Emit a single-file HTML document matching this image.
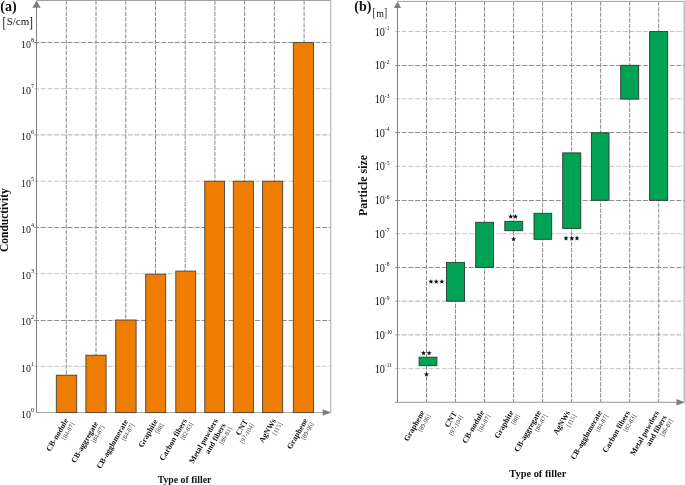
<!DOCTYPE html>
<html><head><meta charset="utf-8">
<style>
html,body{margin:0;padding:0;background:#fff;}
body{width:685px;height:485px;position:relative;overflow:hidden;filter:blur(0.35px);font-family:"Liberation Serif",serif;color:#111;}
svg{position:absolute;left:0;top:0;}
svg text{font-family:"Liberation Serif",serif;fill:#111;}
.lb{position:absolute;transform-origin:100% 0;text-align:right;white-space:nowrap;}
</style></head><body>
<svg width="685" height="485" viewBox="0 0 685 485">
<line x1="34" y1="366.24" x2="330.80" y2="366.24" stroke="#c8c8c8" stroke-width="1" stroke-dasharray="5 1.7"/>
<line x1="34" y1="320.50" x2="330.80" y2="320.50" stroke="#909090" stroke-width="1" stroke-dasharray="5 1.7"/>
<line x1="34" y1="273.72" x2="330.80" y2="273.72" stroke="#c8c8c8" stroke-width="1" stroke-dasharray="5 1.7"/>
<line x1="34" y1="227.50" x2="330.80" y2="227.50" stroke="#909090" stroke-width="1" stroke-dasharray="5 1.7"/>
<line x1="34" y1="181.20" x2="330.80" y2="181.20" stroke="#c8c8c8" stroke-width="1" stroke-dasharray="5 1.7"/>
<line x1="34" y1="134.90" x2="330.80" y2="134.90" stroke="#acacac" stroke-width="1" stroke-dasharray="5 1.7"/>
<line x1="34" y1="88.68" x2="330.80" y2="88.68" stroke="#c8c8c8" stroke-width="1" stroke-dasharray="5 1.7"/>
<line x1="34" y1="42.50" x2="330.80" y2="42.50" stroke="#909090" stroke-width="1" stroke-dasharray="5 1.7"/>
<line x1="66.30" y1="0.50" x2="66.30" y2="412.50" stroke="#8a8a8a" stroke-width="1" stroke-dasharray="4.3 1.3"/>
<line x1="96.03" y1="0.50" x2="96.03" y2="412.50" stroke="#8a8a8a" stroke-width="1" stroke-dasharray="4.3 1.3"/>
<line x1="125.75" y1="0.50" x2="125.75" y2="412.50" stroke="#8a8a8a" stroke-width="1" stroke-dasharray="4.3 1.3"/>
<line x1="155.48" y1="0.50" x2="155.48" y2="412.50" stroke="#8a8a8a" stroke-width="1" stroke-dasharray="4.3 1.3"/>
<line x1="185.20" y1="0.50" x2="185.20" y2="412.50" stroke="#8a8a8a" stroke-width="1" stroke-dasharray="4.3 1.3"/>
<line x1="214.93" y1="0.50" x2="214.93" y2="412.50" stroke="#8a8a8a" stroke-width="1" stroke-dasharray="4.3 1.3"/>
<line x1="244.65" y1="0.50" x2="244.65" y2="412.50" stroke="#8a8a8a" stroke-width="1" stroke-dasharray="4.3 1.3"/>
<line x1="274.38" y1="0.50" x2="274.38" y2="412.50" stroke="#8a8a8a" stroke-width="1" stroke-dasharray="4.3 1.3"/>
<line x1="304.10" y1="0.50" x2="304.10" y2="412.50" stroke="#8a8a8a" stroke-width="1" stroke-dasharray="4.3 1.3"/>
<line x1="36.5" y1="0.5" x2="330.8" y2="0.5" stroke="#a0a0a0" stroke-width="1"/>
<line x1="330.8" y1="0.5" x2="330.8" y2="412.5" stroke="#aaaaaa" stroke-width="1"/>
<line x1="36.5" y1="412.5" x2="324" y2="412.5" stroke="#a8a8a8" stroke-width="1"/>
<rect x="56.30" y="375.20" width="20.40" height="37.40" fill="#EE7D00" stroke="#4a4038" stroke-width="0.9"/>
<rect x="85.90" y="355.20" width="20.20" height="57.40" fill="#EE7D00" stroke="#4a4038" stroke-width="0.9"/>
<rect x="115.70" y="320.00" width="20.40" height="92.60" fill="#EE7D00" stroke="#4a4038" stroke-width="0.9"/>
<rect x="145.70" y="274.20" width="20.00" height="138.40" fill="#EE7D00" stroke="#4a4038" stroke-width="0.9"/>
<rect x="175.80" y="271.10" width="19.90" height="141.50" fill="#EE7D00" stroke="#4a4038" stroke-width="0.9"/>
<rect x="204.80" y="181.20" width="19.70" height="231.40" fill="#EE7D00" stroke="#4a4038" stroke-width="0.9"/>
<rect x="233.30" y="181.20" width="20.10" height="231.40" fill="#EE7D00" stroke="#4a4038" stroke-width="0.9"/>
<rect x="262.60" y="181.20" width="20.10" height="231.40" fill="#EE7D00" stroke="#4a4038" stroke-width="0.9"/>
<rect x="293.30" y="42.40" width="20.20" height="370.20" fill="#EE7D00" stroke="#4a4038" stroke-width="0.9"/>
<line x1="36.5" y1="6" x2="36.5" y2="412.5" stroke="#7f7f7f" stroke-width="1"/>
<polygon points="36.5,0.4 32.3,7.8 40.7,7.8" fill="#7f7f7f"/>
<polygon points="331.3,412.5 322.7,409.2 322.7,415.8" fill="#7f7f7f"/>
<text transform="translate(30.9,418.00) scale(1,1.1)" text-anchor="end" font-size="10">10</text>
<text transform="translate(31.0,411.80) scale(1,1.1)" font-size="6">0</text>
<text transform="translate(30.9,371.74) scale(1,1.1)" text-anchor="end" font-size="10">10</text>
<text transform="translate(31.0,365.54) scale(1,1.1)" font-size="6">1</text>
<text transform="translate(30.9,325.48) scale(1,1.1)" text-anchor="end" font-size="10">10</text>
<text transform="translate(31.0,319.28) scale(1,1.1)" font-size="6">2</text>
<text transform="translate(30.9,279.22) scale(1,1.1)" text-anchor="end" font-size="10">10</text>
<text transform="translate(31.0,273.02) scale(1,1.1)" font-size="6">3</text>
<text transform="translate(30.9,232.96) scale(1,1.1)" text-anchor="end" font-size="10">10</text>
<text transform="translate(31.0,226.76) scale(1,1.1)" font-size="6">4</text>
<text transform="translate(30.9,186.70) scale(1,1.1)" text-anchor="end" font-size="10">10</text>
<text transform="translate(31.0,180.50) scale(1,1.1)" font-size="6">5</text>
<text transform="translate(30.9,140.44) scale(1,1.1)" text-anchor="end" font-size="10">10</text>
<text transform="translate(31.0,134.24) scale(1,1.1)" font-size="6">6</text>
<text transform="translate(30.9,94.18) scale(1,1.1)" text-anchor="end" font-size="10">10</text>
<text transform="translate(31.0,87.98) scale(1,1.1)" font-size="6">7</text>
<text transform="translate(30.9,47.92) scale(1,1.1)" text-anchor="end" font-size="10">10</text>
<text transform="translate(31.0,41.72) scale(1,1.1)" font-size="6">8</text>
<text x="0.3" y="11" font-size="14" font-weight="bold">(a)</text>
<text transform="translate(2.4,26.5) scale(1,1.36)" font-size="11">[</text>
<text x="6.65" y="25.4" font-size="11">S/cm</text>
<text transform="translate(29.3,26.5) scale(1,1.36)" font-size="11">]</text>
<text transform="translate(7.8,220.1) rotate(-90)" text-anchor="middle" font-size="11.5" font-weight="bold">Conductivity</text>
<text x="184.5" y="482.8" text-anchor="middle" font-size="9.8" font-weight="bold">Type of filler</text>
<line x1="395" y1="31.50" x2="684.20" y2="31.50" stroke="#c8c8c8" stroke-width="1" stroke-dasharray="5 1.7"/>
<line x1="395" y1="65.50" x2="684.20" y2="65.50" stroke="#909090" stroke-width="1" stroke-dasharray="5 1.7"/>
<line x1="395" y1="98.84" x2="684.20" y2="98.84" stroke="#c8c8c8" stroke-width="1" stroke-dasharray="5 1.7"/>
<line x1="395" y1="132.50" x2="684.20" y2="132.50" stroke="#909090" stroke-width="1" stroke-dasharray="5 1.7"/>
<line x1="395" y1="166.28" x2="684.20" y2="166.28" stroke="#c8c8c8" stroke-width="1" stroke-dasharray="5 1.7"/>
<line x1="395" y1="200.50" x2="684.20" y2="200.50" stroke="#909090" stroke-width="1" stroke-dasharray="5 1.7"/>
<line x1="395" y1="233.72" x2="684.20" y2="233.72" stroke="#c8c8c8" stroke-width="1" stroke-dasharray="5 1.7"/>
<line x1="395" y1="267.50" x2="684.20" y2="267.50" stroke="#909090" stroke-width="1" stroke-dasharray="5 1.7"/>
<line x1="395" y1="301.16" x2="684.20" y2="301.16" stroke="#acacac" stroke-width="1" stroke-dasharray="5 1.7"/>
<line x1="395" y1="334.88" x2="684.20" y2="334.88" stroke="#acacac" stroke-width="1" stroke-dasharray="5 1.7"/>
<line x1="395" y1="368.60" x2="684.20" y2="368.60" stroke="#c8c8c8" stroke-width="1" stroke-dasharray="5 1.7"/>
<line x1="426.50" y1="1.40" x2="426.50" y2="402.30" stroke="#8a8a8a" stroke-width="1" stroke-dasharray="4.3 1.3"/>
<line x1="455.52" y1="1.40" x2="455.52" y2="402.30" stroke="#8a8a8a" stroke-width="1" stroke-dasharray="4.3 1.3"/>
<line x1="484.55" y1="1.40" x2="484.55" y2="402.30" stroke="#8a8a8a" stroke-width="1" stroke-dasharray="4.3 1.3"/>
<line x1="513.58" y1="1.40" x2="513.58" y2="402.30" stroke="#8a8a8a" stroke-width="1" stroke-dasharray="4.3 1.3"/>
<line x1="542.60" y1="1.40" x2="542.60" y2="402.30" stroke="#8a8a8a" stroke-width="1" stroke-dasharray="4.3 1.3"/>
<line x1="571.62" y1="1.40" x2="571.62" y2="402.30" stroke="#8a8a8a" stroke-width="1" stroke-dasharray="4.3 1.3"/>
<line x1="600.65" y1="1.40" x2="600.65" y2="402.30" stroke="#8a8a8a" stroke-width="1" stroke-dasharray="4.3 1.3"/>
<line x1="629.67" y1="1.40" x2="629.67" y2="402.30" stroke="#8a8a8a" stroke-width="1" stroke-dasharray="4.3 1.3"/>
<line x1="658.70" y1="1.40" x2="658.70" y2="402.30" stroke="#8a8a8a" stroke-width="1" stroke-dasharray="4.3 1.3"/>
<line x1="397.5" y1="1.4" x2="684.2" y2="1.4" stroke="#a0a0a0" stroke-width="1"/>
<line x1="684.2" y1="1.4" x2="684.2" y2="402.3" stroke="#9c9c9c" stroke-width="1"/>
<rect x="419.10" y="357.20" width="17.80" height="8.50" fill="#00A354" stroke="#2a3a30" stroke-width="0.9"/>
<rect x="446.50" y="262.40" width="18.00" height="38.80" fill="#00A354" stroke="#2a3a30" stroke-width="0.9"/>
<rect x="475.70" y="222.30" width="17.80" height="45.10" fill="#00A354" stroke="#2a3a30" stroke-width="0.9"/>
<rect x="504.80" y="221.30" width="17.90" height="9.40" fill="#00A354" stroke="#2a3a30" stroke-width="0.9"/>
<rect x="534.00" y="213.30" width="17.70" height="26.00" fill="#00A354" stroke="#2a3a30" stroke-width="0.9"/>
<rect x="562.70" y="152.90" width="18.10" height="75.50" fill="#00A354" stroke="#2a3a30" stroke-width="0.9"/>
<rect x="591.40" y="132.80" width="17.60" height="67.50" fill="#00A354" stroke="#2a3a30" stroke-width="0.9"/>
<rect x="620.70" y="65.30" width="18.00" height="33.80" fill="#00A354" stroke="#2a3a30" stroke-width="0.9"/>
<rect x="649.60" y="31.60" width="18.10" height="168.70" fill="#00A354" stroke="#2a3a30" stroke-width="0.9"/>
<line x1="397.5" y1="7" x2="397.5" y2="402.3" stroke="#7f7f7f" stroke-width="1"/>
<polygon points="397.5,1.4 393.8,8 401.2,8" fill="#7f7f7f"/>
<line x1="394.8" y1="402.3" x2="678" y2="402.3" stroke="#959595" stroke-width="1"/>
<polygon points="685,402.3 676.5,399.1 676.5,405.5" fill="#7f7f7f"/>
<text transform="translate(385.0,35.50) scale(1,1.13)" text-anchor="end" font-size="10.3">10</text>
<text transform="translate(384.8,30.10) scale(1,1.13)" font-size="5.5">-1</text>
<text transform="translate(385.0,69.22) scale(1,1.13)" text-anchor="end" font-size="10.3">10</text>
<text transform="translate(384.8,63.82) scale(1,1.13)" font-size="5.5">-2</text>
<text transform="translate(385.0,102.94) scale(1,1.13)" text-anchor="end" font-size="10.3">10</text>
<text transform="translate(384.8,97.54) scale(1,1.13)" font-size="5.5">-3</text>
<text transform="translate(385.0,136.66) scale(1,1.13)" text-anchor="end" font-size="10.3">10</text>
<text transform="translate(384.8,131.26) scale(1,1.13)" font-size="5.5">-4</text>
<text transform="translate(385.0,170.38) scale(1,1.13)" text-anchor="end" font-size="10.3">10</text>
<text transform="translate(384.8,164.98) scale(1,1.13)" font-size="5.5">-5</text>
<text transform="translate(385.0,204.10) scale(1,1.13)" text-anchor="end" font-size="10.3">10</text>
<text transform="translate(384.8,198.70) scale(1,1.13)" font-size="5.5">-6</text>
<text transform="translate(385.0,237.82) scale(1,1.13)" text-anchor="end" font-size="10.3">10</text>
<text transform="translate(384.8,232.42) scale(1,1.13)" font-size="5.5">-7</text>
<text transform="translate(385.0,271.54) scale(1,1.13)" text-anchor="end" font-size="10.3">10</text>
<text transform="translate(384.8,266.14) scale(1,1.13)" font-size="5.5">-8</text>
<text transform="translate(385.0,305.26) scale(1,1.13)" text-anchor="end" font-size="10.3">10</text>
<text transform="translate(384.8,299.86) scale(1,1.13)" font-size="5.5">-9</text>
<text transform="translate(385.0,338.98) scale(1,1.13)" text-anchor="end" font-size="10.3">10</text>
<text transform="translate(384.8,333.58) scale(1,1.13)" font-size="5.5">-10</text>
<text transform="translate(385.0,372.70) scale(1,1.13)" text-anchor="end" font-size="10.3">10</text>
<text transform="translate(384.8,367.30) scale(1,1.13)" font-size="5.5">-11</text>
<text x="354.3" y="10.7" font-size="14" font-weight="bold">(b)</text>
<text transform="translate(372.6,16.76) scale(1,1.37)" font-size="9.5">[</text>
<text transform="translate(376.6,16.5) scale(1,1.05)" font-size="9.5">m</text>
<text transform="translate(384.06,16.76) scale(1,1.37)" font-size="9.5">]</text>
<text transform="translate(366.6,185.5) rotate(-90)" text-anchor="middle" font-size="11.9" font-weight="bold">Particle size</text>
<text x="537.8" y="477.2" text-anchor="middle" font-size="10.4" font-weight="bold">Type of filler</text>
<polygon points="423.50,350.45 424.17,352.23 426.07,352.32 424.58,353.50 425.09,355.33 423.50,354.28 421.91,355.33 422.42,353.50 420.93,352.32 422.83,352.23" fill="#111"/>
<polygon points="429.10,350.45 429.77,352.23 431.67,352.32 430.18,353.50 430.69,355.33 429.10,354.28 427.51,355.33 428.02,353.50 426.53,352.32 428.43,352.23" fill="#111"/>
<polygon points="426.50,371.75 427.17,373.53 429.07,373.62 427.58,374.80 428.09,376.63 426.50,375.58 424.91,376.63 425.42,374.80 423.93,373.62 425.83,373.53" fill="#111"/>
<polygon points="430.95,278.95 431.62,280.73 433.52,280.82 432.03,282.00 432.54,283.83 430.95,282.78 429.36,283.83 429.87,282.00 428.38,280.82 430.28,280.73" fill="#111"/>
<polygon points="436.25,278.95 436.92,280.73 438.82,280.82 437.33,282.00 437.84,283.83 436.25,282.78 434.66,283.83 435.17,282.00 433.68,280.82 435.58,280.73" fill="#111"/>
<polygon points="441.85,278.95 442.52,280.73 444.42,280.82 442.93,282.00 443.44,283.83 441.85,282.78 440.26,283.83 440.77,282.00 439.28,280.82 441.18,280.73" fill="#111"/>
<polygon points="510.75,213.85 511.42,215.63 513.32,215.72 511.83,216.90 512.34,218.73 510.75,217.68 509.16,218.73 509.67,216.90 508.18,215.72 510.08,215.63" fill="#111"/>
<polygon points="515.50,213.85 516.17,215.63 518.07,215.72 516.58,216.90 517.09,218.73 515.50,217.68 513.91,218.73 514.42,216.90 512.93,215.72 514.83,215.63" fill="#111"/>
<polygon points="513.55,236.35 514.22,238.13 516.12,238.22 514.63,239.40 515.14,241.23 513.55,240.18 511.96,241.23 512.47,239.40 510.98,238.22 512.88,238.13" fill="#111"/>
<polygon points="566.00,235.55 566.67,237.33 568.57,237.42 567.08,238.60 567.59,240.43 566.00,239.38 564.41,240.43 564.92,238.60 563.43,237.42 565.33,237.33" fill="#111"/>
<polygon points="571.80,235.55 572.47,237.33 574.37,237.42 572.88,238.60 573.39,240.43 571.80,239.38 570.21,240.43 570.72,238.60 569.23,237.42 571.13,237.33" fill="#111"/>
<polygon points="577.00,235.55 577.67,237.33 579.57,237.42 578.08,238.60 578.59,240.43 577.00,239.38 575.41,240.43 575.92,238.60 574.43,237.42 576.33,237.33" fill="#111"/>
</svg>
<div class="lb" style="right:622.20px;top:416.52px;transform:rotate(-60deg)"><div style="font-weight:bold;font-size:7.9px;line-height:9.08px">CB-nodule</div><div style="font-size:6.3px;line-height:6.30px;color:#333">[84-87]</div></div><div class="lb" style="right:592.39px;top:419.80px;transform:rotate(-60deg)"><div style="font-weight:bold;font-size:7.9px;line-height:9.08px">CB-aggregate</div><div style="font-size:6.3px;line-height:6.30px;color:#333">[84-87]</div></div><div class="lb" style="right:562.59px;top:417.64px;transform:rotate(-60deg)"><div style="font-weight:bold;font-size:7.9px;line-height:9.08px">CB-agglomerate</div><div style="font-size:6.3px;line-height:6.30px;color:#333">[84-87]</div></div><div class="lb" style="right:533.21px;top:417.86px;transform:rotate(-60deg)"><div style="font-weight:bold;font-size:7.9px;line-height:9.08px">Graphite</div><div style="font-size:6.3px;line-height:6.30px;color:#333">[88]</div></div><div class="lb" style="right:503.66px;top:417.26px;transform:rotate(-60deg)"><div style="font-weight:bold;font-size:7.9px;line-height:9.08px">Carbon fibers</div><div style="font-size:6.3px;line-height:6.30px;color:#333">[82-83]</div></div><div class="lb" style="right:473.22px;top:417.48px;transform:rotate(-60deg)"><div style="font-weight:bold;font-size:7.9px;line-height:9.08px">Metal powders</div><div style="font-weight:bold;font-size:7.9px;line-height:9.08px">and fibers</div><div style="font-size:6.3px;line-height:6.30px;color:#333">[86-81]</div></div><div class="lb" style="right:443.43px;top:417.88px;transform:rotate(-60deg)"><div style="font-weight:bold;font-size:7.9px;line-height:9.08px">CNT</div><div style="font-size:6.3px;line-height:6.30px;color:#333">[97-104]</div></div><div class="lb" style="right:414.37px;top:417.48px;transform:rotate(-60deg)"><div style="font-weight:bold;font-size:7.9px;line-height:9.08px">AgNWs</div><div style="font-size:6.3px;line-height:6.30px;color:#333">[115]</div></div><div class="lb" style="right:383.72px;top:416.54px;transform:rotate(-60deg)"><div style="font-weight:bold;font-size:7.9px;line-height:9.08px">Graphene</div><div style="font-size:6.3px;line-height:6.30px;color:#333">[89-96]</div></div><div class="lb" style="right:265.94px;top:409.02px;transform:rotate(-60deg)"><div style="font-weight:bold;font-size:7.9px;line-height:9.08px">Graphene</div><div style="font-size:6.3px;line-height:6.30px;color:#333">[89-96]</div></div><div class="lb" style="right:233.63px;top:410.20px;transform:rotate(-60deg)"><div style="font-weight:bold;font-size:7.9px;line-height:9.08px">CNT</div><div style="font-size:6.3px;line-height:6.30px;color:#333">[97-104]</div></div><div class="lb" style="right:207.01px;top:408.50px;transform:rotate(-60deg)"><div style="font-weight:bold;font-size:7.9px;line-height:9.08px">CB-nodule</div><div style="font-size:6.3px;line-height:6.30px;color:#333">[84-87]</div></div><div class="lb" style="right:177.60px;top:408.96px;transform:rotate(-60deg)"><div style="font-weight:bold;font-size:7.9px;line-height:9.08px">Graphite</div><div style="font-size:6.3px;line-height:6.30px;color:#333">[88]</div></div><div class="lb" style="right:149.92px;top:408.72px;transform:rotate(-60deg)"><div style="font-weight:bold;font-size:7.9px;line-height:9.08px">CB-aggregate</div><div style="font-size:6.3px;line-height:6.30px;color:#333">[84-87]</div></div><div class="lb" style="right:120.81px;top:408.84px;transform:rotate(-60deg)"><div style="font-weight:bold;font-size:7.9px;line-height:9.08px">AgNWs</div><div style="font-size:6.3px;line-height:6.30px;color:#333">[115]</div></div><div class="lb" style="right:89.25px;top:409.02px;transform:rotate(-60deg)"><div style="font-weight:bold;font-size:7.9px;line-height:9.08px">CB-agglomerate</div><div style="font-size:6.3px;line-height:6.30px;color:#333">[84-87]</div></div><div class="lb" style="right:60.46px;top:409.12px;transform:rotate(-60deg)"><div style="font-weight:bold;font-size:7.9px;line-height:9.08px">Carbon fibers</div><div style="font-size:6.3px;line-height:6.30px;color:#333">[82-83]</div></div><div class="lb" style="right:32.28px;top:409.12px;transform:rotate(-60deg)"><div style="font-weight:bold;font-size:7.9px;line-height:9.08px">Metal powders</div><div style="font-weight:bold;font-size:7.9px;line-height:9.08px">and fibers</div><div style="font-size:6.3px;line-height:6.30px;color:#333">[86-81]</div></div>
</body></html>
